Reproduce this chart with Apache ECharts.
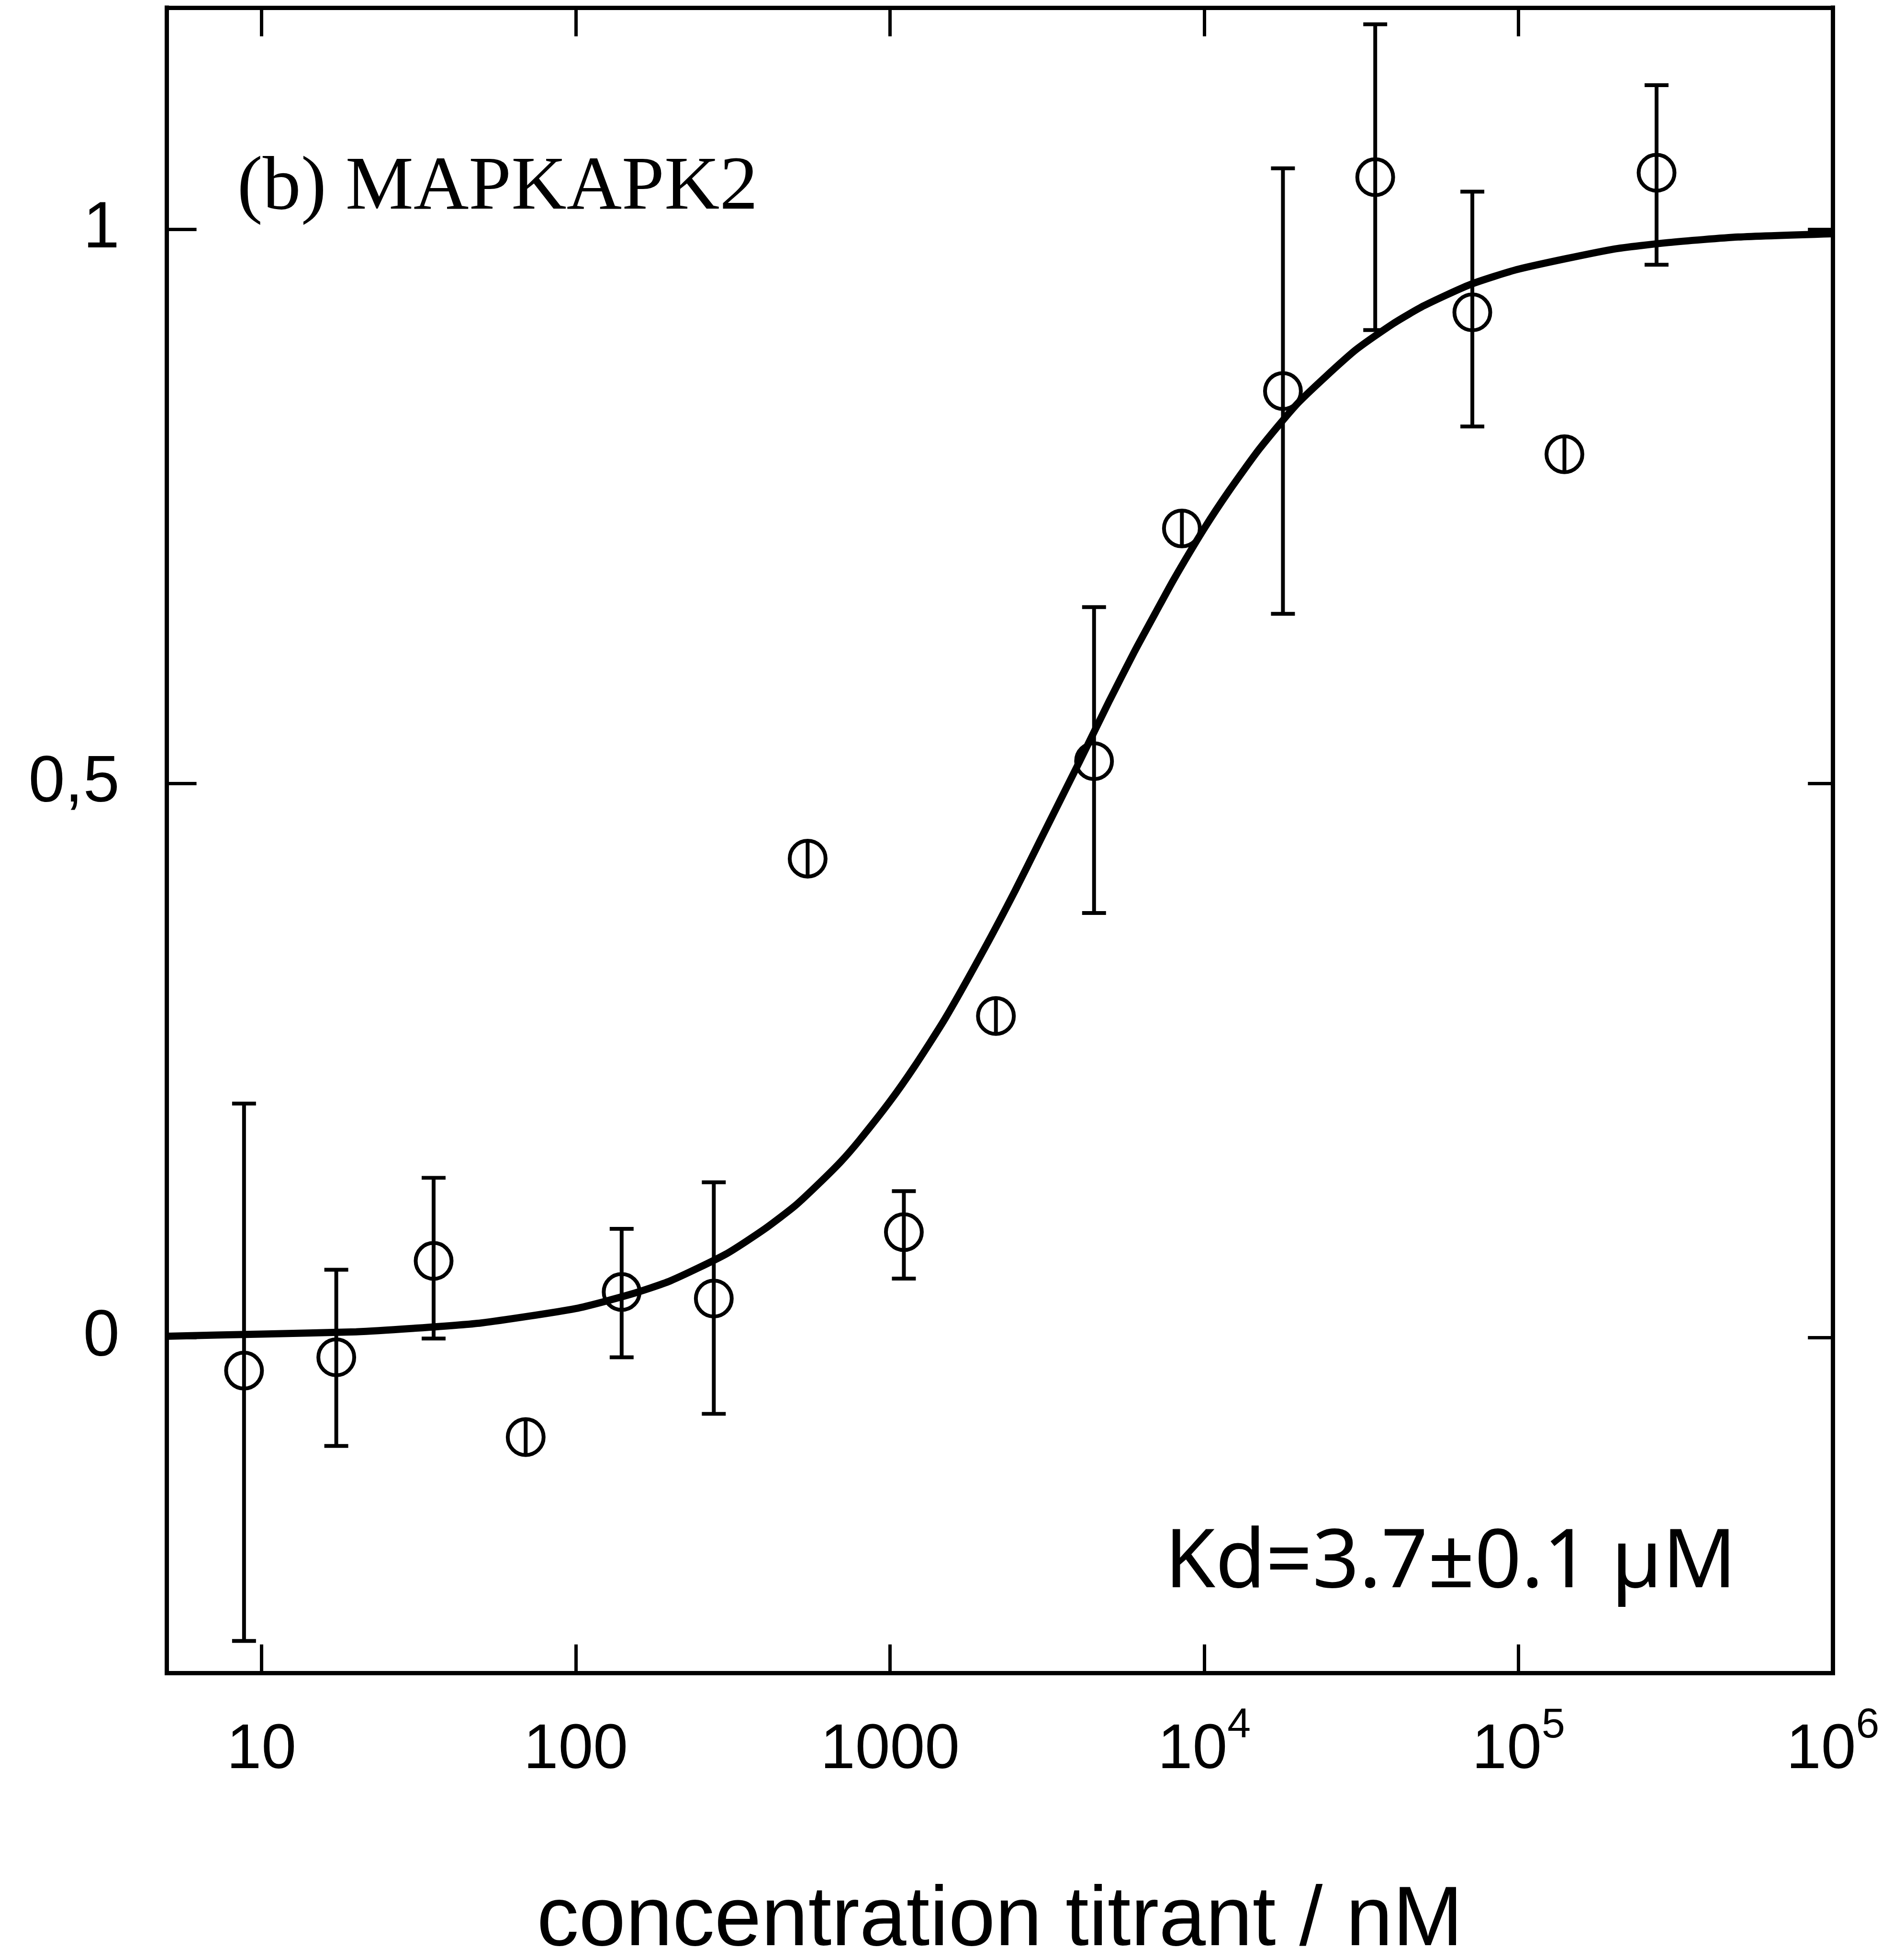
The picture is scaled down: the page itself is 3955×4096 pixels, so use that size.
<!DOCTYPE html>
<html>
<head>
<meta charset="utf-8">
<title>MAPKAPK2 binding</title>
<script src="https://cdn.jsdelivr.net/npm/echarts@6/dist/echarts.min.js"></script>
<style>
  html, body { margin: 0; padding: 0; background: #fff; }
  #chart { width: 3955px; height: 4096px; }
</style>
</head>
<body>
<div id="chart"></div>
<script>
(function(){

    const S = 0.999;   // reference -> window scale

    // titration points, concentration in nM (dilution series)
    const concentration = [8.8, 17.3, 35.3, 69.3, 140, 275, 547, 1107, 2173, 4460, 8490, 17800, 35000, 71300, 140000, 275000];
    const signal        = [-0.030, -0.018, 0.069, -0.090, 0.041, 0.035, 0.432, 0.095, 0.290, 0.520, 0.730, 0.854, 1.047, 0.925, 0.797, 1.051];
    const errLow        = [-0.274, -0.098, -0.001, -0.107, -0.018, -0.069, 0.415, 0.053, 0.273, 0.383, 0.713, 0.653, 0.909, 0.822, 0.780, 0.968];
    const errHigh       = [0.211, 0.061, 0.144, -0.073, 0.098, 0.140, 0.449, 0.132, 0.307, 0.659, 0.747, 1.055, 1.185, 1.034, 0.814, 1.130];

    // fitted binding curve
    const fitX = [5, 10, 20, 30, 50, 100, 150, 200, 300, 400, 500, 600, 700, 800, 1000, 1200, 1500, 2000, 2500, 3000, 4000, 5000, 6000, 7000, 8000, 10000, 12000, 15000, 20000, 30000, 40000, 50000, 70000, 100000, 200000, 300000, 500000, 1000000];
    const fitY = [0.001, 0.003, 0.005, 0.008, 0.013, 0.026, 0.039, 0.051, 0.075, 0.098, 0.119, 0.140, 0.159, 0.178, 0.213, 0.245, 0.288, 0.351, 0.403, 0.448, 0.519, 0.575, 0.619, 0.654, 0.684, 0.730, 0.764, 0.802, 0.844, 0.890, 0.915, 0.931, 0.950, 0.964, 0.982, 0.988, 0.993, 0.996];

    const xTicks = [10, 100, 1000, 10000, 100000, 1000000];
    const yTicks = [0, 0.5, 1];
    const yTickLabels = ['0', '0,5', '1'];

    const titleText = '(b) MAPKAPK2';
    const kdText = 'Kd=3.7\u00b10.1 \u00b5M';
    const xName = 'concentration titrant / nM';

    const xMin = 5, xMax = 1000100;
    const yMin = -0.303, yMax = 1.2;

    const markSize = 75 * S;
    const frameLine = { color: '#000', width: 9 * S, cap: 'square' };
    const tickLine = { color: '#000', width: 7 * S };

    let chart = echarts.init(document.getElementById('chart'), null, { renderer: 'canvas' });

    let scatterData = concentration.map((c, i) => [c, signal[i]]);
    let errData = concentration.map((c, i) => [c, errLow[i], errHigh[i]]);
    let fitData = fitX.map((x, i) => [x, fitY[i]]);

    let xLabelFmt = function(v){
        let e = Math.round(Math.log10(v));
        if (e < 4) return '{b|' + Math.round(v) + '}';
        return '{b|10}{s|' + e + '}';
    };

    let opts = {
        animation: false,
        backgroundColor: '#fff',
        grid: {
            left: 349 * S,
            top: 16 * S,
            width: 3484 * S,
            height: 3484 * S,
            containLabel: false,
            outerBoundsMode: 'none'
        },
        xAxis: [
            {
                type: 'log',
                logBase: 10,
                min: xMin,
                max: xMax,
                position: 'bottom',
                axisLine: { show: true, onZero: false, lineStyle: frameLine },
                axisTick: { show: true, inside: true, length: 60 * S, lineStyle: tickLine, customValues: xTicks },
                axisLabel: {
                    show: true,
                    margin: 28 * S,
                    customValues: xTicks,
                    formatter: xLabelFmt,
                    rich: {
                        b: { fontFamily: 'Liberation Sans', fontSize: 131 * S, lineHeight: 200 * S, color: '#000', verticalAlign: 'bottom' },
                        s: { fontFamily: 'Liberation Sans', fontSize: 88 * S, lineHeight: 88 * S, padding: [38 * S, 0, 0, 0], color: '#000', verticalAlign: 'top' }
                    }
                },
                splitLine: { show: false },
                name: xName,
                nameLocation: 'middle',
                nameGap: 446 * S,
                nameTextStyle: { fontFamily: 'Liberation Sans', fontSize: 176 * S, lineHeight: 150 * S, color: '#000' }
            },
            {
                type: 'log',
                logBase: 10,
                min: xMin,
                max: xMax,
                position: 'top',
                axisLine: { show: true, onZero: false, lineStyle: frameLine },
                axisTick: { show: true, inside: true, length: 60 * S, lineStyle: tickLine, customValues: xTicks },
                axisLabel: { show: false },
                splitLine: { show: false }
            }
        ],
        yAxis: [
            {
                type: 'value',
                min: yMin,
                max: yMax,
                position: 'left',
                axisLine: { show: true, onZero: false, lineStyle: frameLine },
                axisTick: { show: true, inside: true, length: 62 * S, lineStyle: tickLine, customValues: yTicks },
                axisLabel: {
                    show: true,
                    margin: 99 * S,
                    customValues: yTicks,
                    fontFamily: 'Liberation Sans',
                    fontSize: 137 * S,
                    color: '#000',
                    formatter: function(v){
                        let idx = yTicks.indexOf(v);
                        return idx >= 0 ? yTickLabels[idx] : '';
                    }
                },
                splitLine: { show: false }
            },
            {
                type: 'value',
                min: yMin,
                max: yMax,
                position: 'right',
                axisLine: { show: true, onZero: false, lineStyle: frameLine },
                axisTick: { show: true, inside: true, length: 52 * S, lineStyle: tickLine, customValues: yTicks },
                axisLabel: { show: false },
                splitLine: { show: false }
            }
        ],
        series: [
            {
                name: 'fit',
                type: 'line',
                xAxisIndex: 0,
                yAxisIndex: 0,
                data: fitData,
                smooth: 0.2,
                showSymbol: false,
                symbol: 'none',
                clip: true,
                lineStyle: { color: '#000', width: 15 * S },
                z: 3
            },
            {
                name: 'error',
                type: 'custom',
                xAxisIndex: 0,
                yAxisIndex: 0,
                data: errData,
                encode: { x: 0, y: [1, 2] },
                renderItem: function(params, api){
                    let x = api.value(0);
                    let lo = api.coord([x, api.value(1)]);
                    let hi = api.coord([x, api.value(2)]);
                    let hw = 25 * S;
                    let st = { stroke: '#000', lineWidth: 8 * S, fill: null };
                    let kids = [
                        { type: 'line', shape: { x1: lo[0], y1: lo[1], x2: hi[0], y2: hi[1] }, style: st }
                    ];
                    // short bars hide inside the circle, no caps there
                    if (Math.abs(lo[1] - hi[1]) > markSize + 10) {
                        kids.push({ type: 'line', shape: { x1: hi[0] - hw, y1: hi[1], x2: hi[0] + hw, y2: hi[1] }, style: st });
                        kids.push({ type: 'line', shape: { x1: lo[0] - hw, y1: lo[1], x2: lo[0] + hw, y2: lo[1] }, style: st });
                    }
                    return { type: 'group', children: kids };
                },
                z: 4
            },
            {
                name: 'data',
                type: 'scatter',
                xAxisIndex: 0,
                yAxisIndex: 0,
                data: scatterData,
                symbol: 'circle',
                symbolSize: markSize,
                itemStyle: { color: 'rgba(0,0,0,0)', borderColor: '#000', borderWidth: 8 * S, opacity: 1 },
                z: 5
            }
        ],
        graphic: [
            {
                type: 'text',
                x: 496 * S,
                y: 394 * S,
                style: {
                    text: titleText,
                    fill: '#000',
                    font: (160 * S) + 'px "Liberation Serif"',
                    align: 'left',
                    verticalAlign: 'middle',
                    textAlign: 'left',
                    textVerticalAlign: 'middle'
                }
            },
            {
                type: 'text',
                x: 2436 * S,
                y: 3272 * S,
                style: {
                    text: kdText,
                    fill: '#000',
                    font: (171 * S) + 'px "Noto Sans"',
                    align: 'left',
                    verticalAlign: 'middle',
                    textAlign: 'left',
                    textVerticalAlign: 'middle'
                }
            }
        ]
    };

    chart.setOption(opts);

})();
</script>
</body>
</html>
